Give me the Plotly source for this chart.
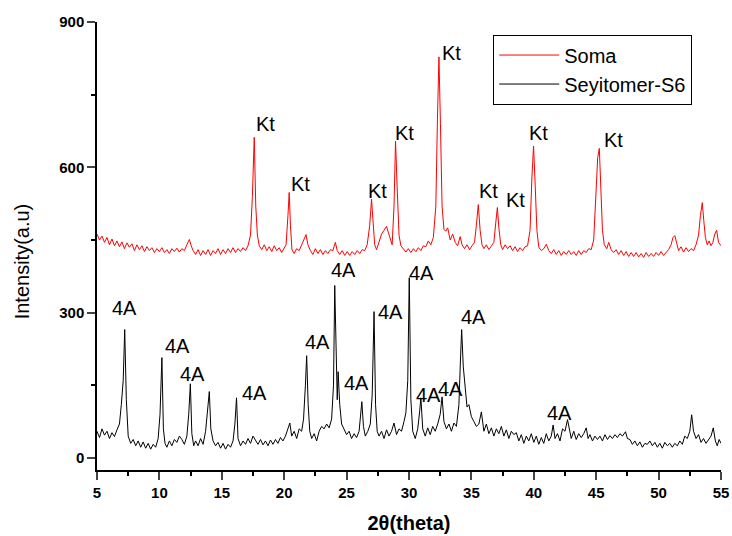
import plotly.graph_objects as go

# ---- Seyitomer-S6 (black) ----
black_x = [5.0, 5.2, 5.4, 5.6, 5.8, 6.0, 6.2, 6.4, 6.6, 6.8, 6.95, 7.1, 7.22, 7.35, 7.5, 7.7, 7.9, 8.1, 8.3, 8.5,
           8.7, 8.9, 9.1, 9.3, 9.5, 9.7, 9.9, 10.05, 10.2, 10.32, 10.45, 10.6, 10.8, 11.0, 11.2, 11.4, 11.6, 11.8, 12.0, 12.2,
           12.35, 12.48, 12.6, 12.75, 12.9, 13.1, 13.3, 13.5, 13.7, 13.85, 14.0, 14.12, 14.3, 14.5, 14.7, 14.9, 15.1, 15.3, 15.5, 15.7,
           15.9, 16.05, 16.18, 16.3, 16.5, 16.7, 16.9, 17.1, 17.3, 17.5, 17.7, 17.9, 18.1, 18.3, 18.5, 18.7, 18.9, 19.1, 19.3, 19.5,
           19.7, 19.9, 20.1, 20.3, 20.45, 20.6, 20.8, 21.0, 21.2, 21.4, 21.55, 21.7, 21.8, 21.92, 22.05, 22.2, 22.4, 22.6, 22.8, 23.0,
           23.2, 23.4, 23.6, 23.8, 23.95, 24.05, 24.15, 24.25, 24.32, 24.45, 24.6, 24.8, 25.0, 25.2, 25.4, 25.6, 25.8, 26.0, 26.12, 26.22,
           26.35, 26.5, 26.7, 26.9, 27.05, 27.2, 27.32, 27.45, 27.6, 27.8, 28.0, 28.2, 28.4, 28.6, 28.8, 29.0, 29.2, 29.4, 29.6, 29.75,
           29.9, 30.02, 30.15, 30.3, 30.5, 30.7, 30.85, 30.95, 31.1, 31.3, 31.5, 31.7, 31.9, 32.1, 32.3, 32.5, 32.65, 32.8, 33.0, 33.2,
           33.4, 33.6, 33.8, 34.0, 34.12, 34.22, 34.35, 34.5, 34.65, 34.8, 35.0, 35.2, 35.4, 35.6, 35.8, 36.0, 36.2, 36.4, 36.6, 36.8,
           37.0, 37.2, 37.4, 37.6, 37.8, 38.0, 38.2, 38.4, 38.6, 38.8, 39.0, 39.2, 39.4, 39.6, 39.8, 40.0, 40.2, 40.4, 40.6, 40.8,
           41.0, 41.2, 41.4, 41.55, 41.7, 41.9, 42.1, 42.3, 42.5, 42.7, 42.85, 43.0, 43.2, 43.4, 43.6, 43.8, 44.0, 44.2, 44.35, 44.5,
           44.7, 44.9, 45.1, 45.3, 45.5, 45.7, 45.9, 46.1, 46.3, 46.5, 46.7, 46.9, 47.1, 47.35, 47.5, 47.7, 47.9, 48.1, 48.3, 48.5,
           48.7, 48.9, 49.1, 49.3, 49.5, 49.7, 49.9, 50.1, 50.3, 50.5, 50.7, 50.9, 51.1, 51.3, 51.5, 51.7, 51.9, 52.1, 52.3, 52.5,
           52.65, 52.8, 53.0, 53.2, 53.4, 53.6, 53.8, 54.0, 54.2, 54.38, 54.55, 54.7, 54.85, 55.0]
black_y = [55, 42, 60, 47, 55, 40, 52, 44, 58, 70, 110, 160, 265, 120, 45, 30, 38, 25, 35, 22,
           33, 20, 30, 18, 28, 22, 40, 90, 207, 60, 30, 22, 35, 25, 38, 32, 45, 38, 28, 45,
           90, 153, 50, 25, 35, 25, 40, 28, 55, 90, 137, 60, 35, 25, 32, 20, 30, 18, 28, 22,
           35, 70, 124, 40, 25, 35, 28, 40, 30, 45, 35, 28, 38, 27, 35, 25, 37, 28, 38, 30,
           42, 35, 45, 60, 72, 45, 55, 40, 60, 55, 80, 150, 211, 110, 55, 40, 50, 35, 55, 65,
           60, 70, 62, 80, 150, 356, 200, 120, 178, 110, 70, 60, 48, 55, 40, 50, 42, 55, 90, 116,
           65, 45, 55, 70, 130, 302, 110, 55, 45, 55, 40, 58, 45, 55, 72, 48, 60, 55, 75, 93,
           160, 372, 120, 55, 40, 60, 95, 124, 60, 45, 62, 48, 65, 55, 70, 90, 126, 75, 60, 70,
           55, 72, 65, 110, 200, 265, 188, 140, 105, 110, 85, 75, 65, 70, 95, 55, 70, 50, 62, 45,
           60, 50, 65, 45, 58, 40, 55, 48, 52, 35, 48, 30, 45, 35, 50, 32, 45, 28, 42, 30,
           50, 35, 45, 68, 40, 50, 35, 60, 55, 79, 60, 40, 55, 38, 50, 42, 50, 62, 40, 48,
           35, 45, 38, 45, 35, 48, 38, 46, 40, 48, 42, 50, 45, 54, 40, 38, 28, 35, 25, 33,
           22, 30, 28, 35, 25, 32, 22, 30, 20, 32, 25, 30, 22, 30, 25, 35, 28, 45, 40, 55,
           89, 55, 40, 48, 32, 40, 30, 38, 45, 62, 35, 25, 38, 30]

# ---- Soma (red) ----
red_x = [5.0, 5.2, 5.4, 5.6, 5.8, 6.0, 6.2, 6.4, 6.6, 6.8, 7.0, 7.2, 7.4, 7.6, 7.8, 8.0, 8.2, 8.4, 8.6, 8.8,
         9.0, 9.2, 9.4, 9.6, 9.8, 10.0, 10.2, 10.4, 10.6, 10.8, 11.0, 11.2, 11.4, 11.6, 11.8, 12.0, 12.2, 12.4, 12.55, 12.7,
         12.9, 13.1, 13.3, 13.5, 13.7, 13.9, 14.1, 14.3, 14.5, 14.7, 14.9, 15.1, 15.3, 15.5, 15.7, 15.9, 16.1, 16.3, 16.5, 16.7,
         16.9, 17.1, 17.3, 17.45, 17.6, 17.72, 17.85, 18.0, 18.2, 18.4, 18.6, 18.8, 19.0, 19.2, 19.4, 19.6, 19.8, 20.0, 20.15, 20.3,
         20.4, 20.5, 20.62, 20.8, 21.0, 21.2, 21.4, 21.6, 21.75, 21.9, 22.1, 22.3, 22.5, 22.7, 22.9, 23.1, 23.3, 23.5, 23.7, 23.9,
         24.1, 24.25, 24.45, 24.65, 24.85, 25.05, 25.25, 25.45, 25.65, 25.85, 26.05, 26.25, 26.45, 26.65, 26.85, 27.0, 27.12, 27.25, 27.4, 27.6,
         27.8, 28.0, 28.2, 28.35, 28.5, 28.65, 28.8, 28.92, 29.05, 29.2, 29.35, 29.55, 29.75, 29.95, 30.15, 30.35, 30.55, 30.75, 30.95, 31.15,
         31.35, 31.55, 31.75, 31.95, 32.15, 32.28, 32.4, 32.52, 32.65, 32.8, 32.95, 33.1, 33.3, 33.5, 33.7, 33.9, 34.1, 34.25, 34.45, 34.65,
         34.85, 35.05, 35.25, 35.4, 35.55, 35.7, 35.85, 36.0, 36.2, 36.4, 36.6, 36.8, 36.95, 37.08, 37.2, 37.35, 37.5, 37.7, 37.9, 38.1,
         38.3, 38.5, 38.7, 38.9, 39.1, 39.3, 39.5, 39.7, 39.85, 39.98, 40.1, 40.25, 40.4, 40.6, 40.8, 41.0, 41.2, 41.4, 41.6, 41.8,
         42.0, 42.2, 42.4, 42.6, 42.8, 43.0, 43.2, 43.4, 43.6, 43.8, 44.0, 44.2, 44.4, 44.6, 44.8, 44.95, 45.12, 45.25, 45.38, 45.5,
         45.65, 45.85, 46.0, 46.2, 46.4, 46.6, 46.8, 47.0, 47.2, 47.4, 47.6, 47.8, 48.0, 48.2, 48.4, 48.6, 48.8, 49.0, 49.2, 49.4,
         49.6, 49.8, 50.0, 50.2, 50.4, 50.6, 50.8, 51.0, 51.15, 51.3, 51.45, 51.6, 51.8, 52.0, 52.2, 52.4, 52.6, 52.8, 53.0, 53.2,
         53.35, 53.5, 53.62, 53.75, 53.9, 54.05, 54.2, 54.35, 54.5, 54.65, 54.8, 55.0]
red_y = [462, 450, 458, 445, 455, 440, 452, 438, 448, 436, 446, 432, 444, 435, 442, 428, 440, 430, 438, 426,
         436, 428, 434, 424, 432, 426, 434, 424, 430, 422, 432, 426, 433, 425, 432, 428, 440, 451, 438, 428,
         420, 430, 418, 428, 420, 430, 418, 428, 422, 432, 420, 430, 422, 432, 424, 434, 424, 432, 426, 434,
         428, 438, 460, 540, 662, 520, 460, 438, 430, 440, 428, 436, 426, 438, 428, 434, 424, 432, 440, 500,
         548, 480, 430, 422, 432, 428, 440, 455, 461, 440, 428, 420, 432, 422, 430, 420, 428, 422, 430, 428,
         445, 428, 420, 428, 418, 426, 418, 426, 420, 428, 422, 430, 428, 440, 480, 534, 480, 440, 430, 445,
         462, 470, 478, 465, 450, 440, 520, 654, 560, 460, 438, 432, 425, 432, 424, 432, 426, 434, 428, 438,
         436, 448, 440, 455, 520, 700, 828, 690, 520, 472, 468, 475, 450, 462, 445, 438, 457, 440, 432, 440,
         430, 438, 445, 480, 523, 470, 440, 432, 440, 430, 438, 445, 485, 517, 475, 440, 430, 440, 432, 438,
         428, 436, 426, 434, 428, 436, 438, 470, 580, 644, 570, 470, 435, 428, 432, 441, 428, 422, 430, 420,
         428, 418, 426, 420, 428, 420, 426, 418, 428, 420, 428, 424, 432, 430, 450, 520, 620, 639, 560, 470,
         440, 432, 445, 430, 424, 430, 420, 428, 418, 426, 416, 424, 416, 424, 415, 422, 414, 424, 416, 422,
         416, 424, 418, 426, 418, 424, 430, 440, 455, 459, 440, 428, 436, 425, 434, 426, 432, 428, 440, 460,
         500, 527, 490, 455, 440, 448, 438, 445, 462, 470, 445, 438]

# ---- peak labels ----
kt_x = [18.54, 21.27, 27.44, 29.6, 33.37, 36.4, 38.5, 40.4, 46.4]
kt_y = [689, 565, 552, 670, 836, 552, 532, 670, 656]
a4_x = [7.24, 11.41, 12.69, 17.58, 22.63, 24.79, 25.83, 28.48, 31.04, 31.55, 33.3, 35.13, 42.02]
a4_y = [310, 232, 174, 134, 240, 387, 155, 302, 381, 130, 143, 290, 93]

series_names = ["Soma", "Seyitomer-S6"]
x_ticks = [5, 10, 15, 20, 25, 30, 35, 40, 45, 50, 55]
y_ticks = [0, 300, 600, 900]

FONT = "Liberation Sans, Arial, sans-serif"

fig = go.Figure()
fig.add_trace(go.Scatter(x=red_x, y=red_y, mode="lines", name=series_names[0],
                         line=dict(color="#ff0000", width=1)))
fig.add_trace(go.Scatter(x=black_x, y=black_y, mode="lines", name=series_names[1],
                         line=dict(color="#000000", width=1)))

for x, y in zip(kt_x, kt_y):
    fig.add_annotation(x=x, y=y, text="Kt", showarrow=False, xanchor="center", yanchor="middle",
                       font=dict(family=FONT, size=20, color="black"))
for x, y in zip(a4_x, a4_y):
    fig.add_annotation(x=x, y=y, text="4A", showarrow=False, xanchor="center", yanchor="middle",
                       font=dict(family=FONT, size=20, color="black"))

# y-axis title placed as a rotated paper annotation (matches reference position)
fig.add_annotation(xref="paper", yref="paper", x=-0.120, y=0.466, text="Intensity(a.u)",
                   textangle=-90, showarrow=False, xanchor="center", yanchor="middle",
                   font=dict(family=FONT, size=20, color="black"))

fig.update_layout(
    width=732, height=536,
    margin=dict(l=97, r=11, t=22, b=66, autoexpand=False),
    paper_bgcolor="white", plot_bgcolor="white",
    font=dict(family=FONT, color="black"),
    showlegend=True,
    legend=dict(x=0.635, y=0.972, xanchor="left", yanchor="top",
                bordercolor="black", borderwidth=1, bgcolor="white",
                font=dict(family=FONT, size=20, color="black"),
                tracegroupgap=0, itemwidth=60),
    xaxis=dict(range=[5, 55], tickvals=x_ticks, ticks="outside", ticklen=8, tickwidth=1.5,
               showline=True, linecolor="black", linewidth=1.5, showgrid=False, zeroline=False,
               automargin=False,
               tickfont=dict(family=FONT, size=15, color="black", weight="bold"),
               minor=dict(dtick=2.5, tick0=5, ticks="outside", ticklen=4, tickwidth=1.5, tickcolor="black"),
               title=dict(text="<b>2θ(theta)</b>", font=dict(family=FONT, size=20), standoff=16)),
    yaxis=dict(range=[-25, 900], tickvals=y_ticks, ticks="outside", ticklen=8, tickwidth=1.5,
               showline=True, linecolor="black", linewidth=1.5, showgrid=False, zeroline=False,
               automargin=False,
               tickfont=dict(family=FONT, size=15, color="black", weight="bold"),
               minor=dict(dtick=150, tick0=0, ticks="outside", ticklen=4, tickwidth=1.5, tickcolor="black")),
    xaxis2=dict(overlaying="x", side="top", range=[5, 55], dtick=5, tick0=5, ticks="inside", ticklen=5,
                tickwidth=1, showticklabels=False, showline=True, linecolor="black", linewidth=1.5,
                showgrid=False, zeroline=False, automargin=False),
    yaxis2=dict(overlaying="y", side="right", range=[0, 10], dtick=1, tick0=0, ticks="inside", ticklen=5,
                tickwidth=1, showticklabels=False, showline=True, linecolor="black", linewidth=1.5,
                showgrid=False, zeroline=False, automargin=False),
)

fig.write_html("out.html")
